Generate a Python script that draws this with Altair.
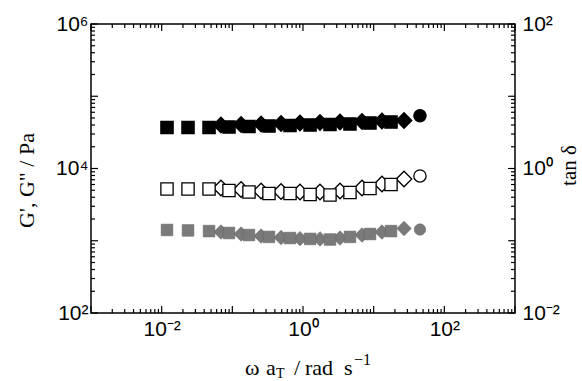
import altair as alt
import pandas as pd

# ---------------- data ----------------
# squares
omega_sq = [0.0119, 0.0236, 0.0468, 0.0897, 0.172, 0.330, 0.655, 1.26, 2.41, 4.62, 8.87, 17.6]
Gp_sq = [36900, 36900, 36900, 37500, 38100, 38700, 39400, 40000, 40600, 41300, 42600, 44000]
Gpp_sq = [5200, 5200, 5200, 4960, 4730, 4510, 4510, 4370, 4300, 4650, 5280, 6010]
tan_sq = [0.141, 0.139, 0.136, 0.128, 0.120, 0.113, 0.109, 0.106, 0.104, 0.113, 0.124, 0.136]
# diamonds
omega_di = [0.069, 0.133, 0.255, 0.489, 0.906, 1.74, 3.34, 6.84, 13.1, 26.9]
Gp_di = [40000, 40600, 41300, 42000, 42600, 43300, 44000, 44700, 45400, 46200]
Gpp_di = [5370, 5120, 4880, 4810, 4730, 4730, 4880, 5370, 6100, 7160]
tan_di = [0.132, 0.124, 0.116, 0.111, 0.107, 0.106, 0.109, 0.120, 0.132, 0.148]
# circle
omega_ci = [45.2]
Gp_ci = [53800]
Gpp_ci = [7880]
tan_ci = [0.143]

# axis tick values
decades_x = [-3, -2, -1, 0, 1, 2]
decades_y = [2, 3, 4, 5]
decades_r = [-2, -1, 0, 1]
x_label_vals = [0.01, 1, 100]
y_label_vals = [100, 10000, 1000000]
r_label_vals = [0.01, 1, 100]

W, H = 424, 289

def series(om, gp, gpp, td):
    return pd.DataFrame({"omega": om, "Gp": gp, "Gpp": gpp, "tan": td})

df_sq = series(omega_sq, Gp_sq, Gpp_sq, tan_sq)
df_di = series(omega_di, Gp_di, Gpp_di, tan_di)
df_ci = series(omega_ci, Gp_ci, Gpp_ci, tan_ci)

def tick_frame(decs):
    maj, mnr = [], []
    for d in decs:
        maj.append(10.0 ** d)
        for m in range(2, 10):
            mnr.append(m * 10.0 ** d)
    maj.append(10.0 ** (decs[-1] + 1))
    return pd.DataFrame({"v": maj}), pd.DataFrame({"v": mnr})

xmaj, xmin = tick_frame(decades_x)
ymaj, ymin = tick_frame(decades_y)
rmaj, rmin = tick_frame(decades_r)

EXP = "round(log(datum.value)/LN10)"
def sup_expr(pairs):
    expr = "''"
    for e, s in reversed(pairs):
        expr = f"{EXP} == {e} ? '{s}' : ({expr})"
    return expr

xscale = alt.Scale(type="log", domain=[1e-3, 1e3], nice=False)
yscale = alt.Scale(type="log", domain=[1e2, 1e6], nice=False)
rscale = alt.Scale(type="log", domain=[1e-2, 1e2], nice=False)

xaxis = alt.Axis(values=x_label_vals, labelExpr=sup_expr([(-2, "10⁻²"), (0, "10⁰"), (2, "10²")]),
                 title=None, labelPadding=5, labelFlush=False, orient="bottom")
yaxis = alt.Axis(values=y_label_vals, labelExpr=sup_expr([(2, "10²"), (4, "10⁴"), (6, "10⁶")]),
                 title="G', G\" / Pa", titleAngle=270, titleX=-65, titleY=156,
                 titleAlign="center", titleBaseline="middle", labelPadding=3, labelFlush=False)
raxis = alt.Axis(values=r_label_vals, labelExpr=sup_expr([(-2, "10⁻²"), (0, "10⁰"), (2, "10²")]),
                 orient="right", title="tan δ", titleAngle=270, titleX=54, titleY=141,
                 titleFontSize=21,
                 titleAlign="center", titleBaseline="middle", labelPadding=7, labelFlush=False)

X = alt.X("omega:Q", scale=xscale, axis=xaxis)

def markers(df, field, scale, axis, fill, stroke, shape, size, sw=1.3):
    return alt.Chart(df).mark_point(shape=shape, filled=True, fill=fill, stroke=stroke,
                                    strokeWidth=sw, size=size, opacity=1).encode(
        x=X, y=alt.Y(f"{field}:Q", scale=scale, axis=axis))

SQ, DI, CI = 150, 240, 150
TC = "black"
TW = 1.2

# inward ticks drawn as rules from the frame into the plot
def xticks(df, length):
    b = alt.Chart(df).mark_rule(color=TC, strokeWidth=TW, opacity=1).encode(
        x=alt.X("v:Q", scale=xscale, axis=xaxis), y=alt.value(H), y2=alt.value(H - length))
    t = alt.Chart(df).mark_rule(color=TC, strokeWidth=TW, opacity=1).encode(
        x=alt.X("v:Q", scale=xscale, axis=xaxis), y=alt.value(0), y2=alt.value(length))
    return [b, t]

def yticks(df, length):
    return alt.Chart(df).mark_rule(color=TC, strokeWidth=TW, opacity=1).encode(
        y=alt.Y("v:Q", scale=yscale, axis=yaxis), x=alt.value(0), x2=alt.value(length))

def rticks(df, length):
    return alt.Chart(df).mark_rule(color=TC, strokeWidth=TW, opacity=1).encode(
        y=alt.Y("v:Q", scale=rscale, axis=raxis), x=alt.value(W), x2=alt.value(W - length))

left = alt.layer(
    markers(df_di, "Gp", yscale, yaxis, "black", "black", "diamond", DI),
    markers(df_sq, "Gp", yscale, yaxis, "black", "black", "square", SQ),
    markers(df_ci, "Gp", yscale, yaxis, "black", "black", "circle", CI),
    markers(df_di, "Gpp", yscale, yaxis, "white", "black", "diamond", DI),
    markers(df_sq, "Gpp", yscale, yaxis, "white", "black", "square", SQ),
    markers(df_ci, "Gpp", yscale, yaxis, "white", "black", "circle", CI),
    *xticks(xmaj, 7), *xticks(xmin, 4),
    yticks(ymaj, 7), yticks(ymin, 4),
)

GRAY = "#7a7a7a"
right = alt.layer(
    markers(df_di, "tan", rscale, raxis, GRAY, "#666666", "diamond", 210, 0.6),
    markers(df_sq, "tan", rscale, raxis, GRAY, "#666666", "square", 135, 0.6),
    markers(df_ci, "tan", rscale, raxis, GRAY, "#666666", "circle", 130, 0.6),
    rticks(rmaj, 7), rticks(rmin, 4),
)

# bottom axis title, built from pieces so that the subscript and superscript show
one = pd.DataFrame({"a": [0]})
def piece(txt, x, y, size):
    return alt.Chart(one).mark_text(text=txt, font="Liberation Serif", fontSize=size,
                                    align="left", baseline="alphabetic", color="black").encode(
        x=alt.value(x), y=alt.value(y))

title_pieces = alt.layer(
    piece("ω", 154, 351, 22),
    piece("a", 175, 351, 22),
    piece("T", 185, 354, 14),
    piece("/", 203, 351, 22),
    piece("rad", 214, 351, 22),
    piece("s", 253, 351, 22),
    piece("−1", 263, 341, 16),
)

chart = alt.layer(left, right, title_pieces).resolve_scale(y="independent").properties(
    width=W, height=H,
    padding={"left": 91, "top": 24, "right": 67, "bottom": 68},
    autosize=alt.AutoSizeParams(type="none"),
).configure_view(stroke="black", strokeWidth=1.5).configure_axis(
    labelFont="Liberation Sans", labelFontSize=21, labelColor="black",
    titleFont="Liberation Serif", titleFontSize=22, titleColor="black", titleFontWeight="normal",
    grid=False, ticks=False, domain=False,
)

chart.save("out.html", embed_options={"renderer": "svg", "actions": False})
